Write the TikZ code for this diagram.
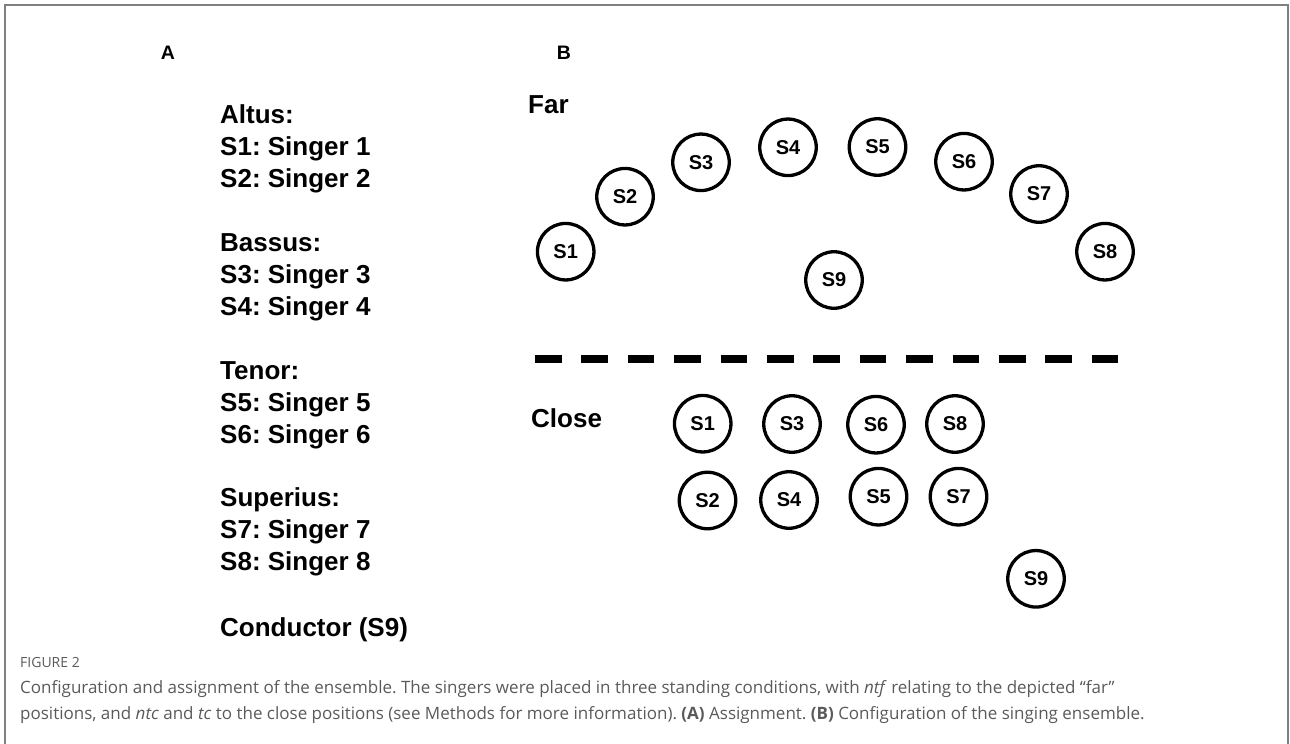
\documentclass[tikz,border=0pt]{standalone}
\usepackage{fontspec}
\setmainfont{Liberation Sans}
\newfontfamily\capfont{Open Sans}
\definecolor{capgray}{HTML}{5A5A5A}
\definecolor{framegray}{HTML}{808080}
\frenchspacing
\begin{document}
\begin{tikzpicture}[x=1pt,y=-1pt,
  singer/.style={circle,draw=black,line width=3.3pt,minimum size=56.5pt,inner sep=0pt,font=\fontsize{20}{20}\selectfont\bfseries},
  big/.style={font=\fontsize{26}{31}\selectfont\bfseries,anchor=base west,inner sep=0pt},
  panel/.style={font=\fontsize{19.5}{20}\selectfont\bfseries,inner sep=0pt},
  capline/.style={font=\capfont\fontsize{17}{20}\selectfont,text=capgray,anchor=base west,inner sep=0pt},
  divider/.style={line width=8pt,dash pattern=on 26.6pt off 19.8pt}]
\useasboundingbox (0,0) rectangle (1290,744);
% frame
\coordinate (fbl) at (5,744);
\coordinate (ftl) at (5,5);
\coordinate (ftr) at (1288,5);
\coordinate (fbr) at (1288,744);
\draw[framegray,line width=1.4pt] (fbl) -- (ftl) -- (ftr) -- (fbr);
% panel letters
\node[panel] (pA) at (168,53) {A};
\node[panel] (pB) at (564,53) {B};
% assignment list
\node[big] (l0) at (220,123) {Altus:};
\node[big] (l1) at (220,155) {S1: Singer 1};
\node[big] (l2) at (220,187) {S2: Singer 2};
\node[big] (l4) at (220,251) {Bassus:};
\node[big] (l5) at (220,283) {S3: Singer 3};
\node[big] (l6) at (220,315) {S4: Singer 4};
\node[big] (l8) at (220,379) {Tenor:};
\node[big] (l9) at (220,411) {S5: Singer 5};
\node[big] (l10) at (220,443) {S6: Singer 6};
\node[big] (l12) at (220,506) {Superius:};
\node[big] (l13) at (220,538) {S7: Singer 7};
\node[big] (l14) at (220,570) {S8: Singer 8};
\node[big] (l16) at (220,636) {Conductor (S9)};
% far configuration
\node[big] (far) at (528,113) {Far};
\node[singer] (f1) at (565.7,251.7) {S1};
\node[singer] (f2) at (625,196.7) {S2};
\node[singer] (f3) at (701,162.3) {S3};
\node[singer] (f4) at (788,147.3) {S4};
\node[singer] (f5) at (877.5,147) {S5};
\node[singer] (f6) at (964,161.7) {S6};
\node[singer] (f7) at (1039,194) {S7};
\node[singer] (f8) at (1105,251.7) {S8};
\node[singer] (f9) at (834,280) {S9};
% divider
\coordinate (dl) at (535,359);
\coordinate (dr) at (1118,359);
\draw[divider] (dl) -- (dr);
% close configuration
\node[big] (close) at (531,427) {Close};
\node[singer] (c1) at (702.7,423.7) {S1};
\node[singer] (c3) at (792,424) {S3};
\node[singer] (c6) at (876,424.7) {S6};
\node[singer] (c8) at (955,424) {S8};
\node[singer] (c2) at (707.5,500.5) {S2};
\node[singer] (c4) at (789,500) {S4};
\node[singer] (c5) at (878.5,496.7) {S5};
\node[singer] (c7) at (958.5,496.7) {S7};
\node[singer] (c9) at (1036,578.8) {S9};
% caption
\node[capline,font=\capfont\fontsize{14}{16}\selectfont] (figlab) at (20,667) {FIGURE 2};
\node[capline] (cap1) at (20,693) {Configuration and assignment of the ensemble. The singers were placed in three standing conditions, with \textit{ntf} relating to the depicted “far”};
\node[capline] (cap2) at (20,719) {positions, and \textit{ntc} and \textit{tc} to the close positions (see Methods for more information). \textbf{(A)} Assignment. \textbf{(B)} Configuration of the singing ensemble.};
\end{tikzpicture}
\end{document}
